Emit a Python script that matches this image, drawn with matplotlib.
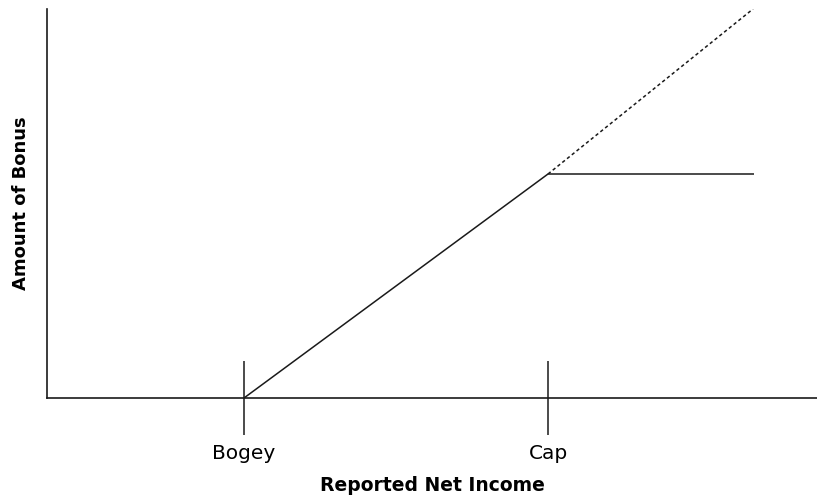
import matplotlib
matplotlib.use("Agg")
import matplotlib.pyplot as plt

plt.rcParams['font.family'] = ['DejaVu Sans']

# income axis positions (arbitrary units) and bonus amounts
income = [197, 501, 707]
bonus = [0, 224, 224]
uncapped_income = [501, 706]
uncapped_bonus = [224, 389]
tick_pos = [197, 501]
tick_labels = ['Bogey', 'Cap']

fig = plt.figure(figsize=(8.17, 4.96), dpi=100)
ax = fig.add_axes([47 / 817, 98 / 496, 770 / 817, 389 / 496])

ax.plot(income, bonus, color='#1a1a1a', lw=1.1, solid_capstyle='butt')
ax.plot(uncapped_income, uncapped_bonus, color='#1a1a1a', lw=1.1,
        linestyle=(0, (2.2, 1.8)))

ax.set_xlim(0, 770)
ax.set_ylim(0, 389)

for s in ['top', 'right']:
    ax.spines[s].set_visible(False)
for s in ['left', 'bottom']:
    ax.spines[s].set_linewidth(1.2)
    ax.spines[s].set_color('#1a1a1a')

ax.set_yticks([])
ax.set_xticks(tick_pos)
ax.set_xticklabels(tick_labels, fontsize=14.5)
ax.tick_params(axis='x', direction='inout', length=53, width=1.1,
               color='#1a1a1a', pad=6.5)

ax.set_xlabel('Reported Net Income', fontsize=13.5, fontweight='bold', labelpad=9.5)
ax.set_ylabel('Amount of Bonus', fontsize=13, fontweight='bold', labelpad=12)

fig.savefig('out.png', dpi=100)
